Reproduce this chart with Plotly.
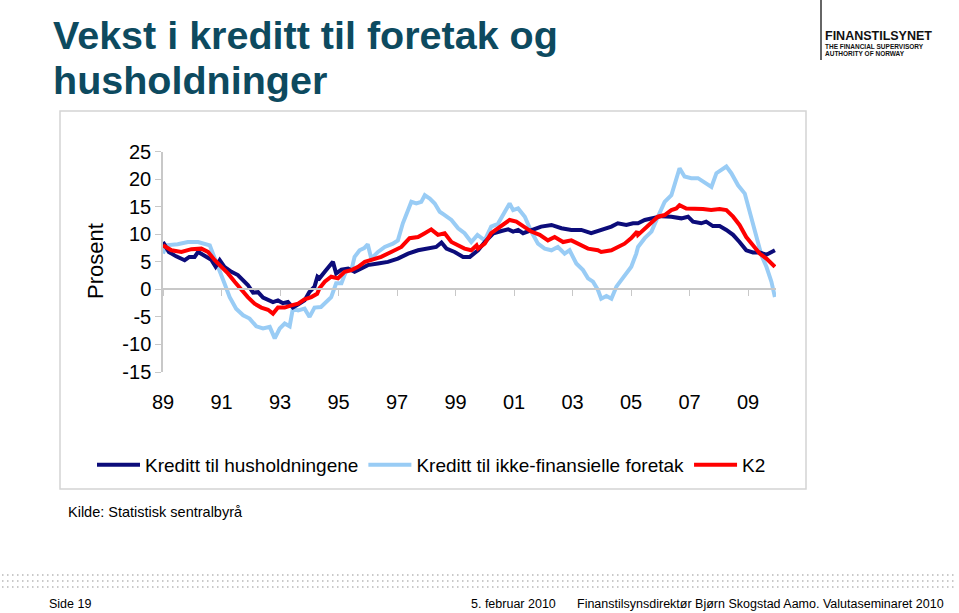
import plotly.graph_objects as go

# ---------------- data ----------------
hh_year = [1989.0, 1989.2, 1989.45, 1989.74, 1989.9, 1990.08, 1990.2, 1990.42, 1990.65, 1990.8,
           1990.94, 1991.1, 1991.34, 1991.56, 1991.74, 1991.9, 1992.08, 1992.25, 1992.42, 1992.6,
           1992.76, 1992.93, 1993.1, 1993.27, 1993.44, 1993.6, 1993.84, 1994.0, 1994.18, 1994.28,
           1994.35, 1994.53, 1994.81, 1994.92, 1995.1, 1995.33, 1995.55, 1995.78, 1996.0, 1996.35,
           1996.69, 1997.03, 1997.38, 1997.72, 1998.06, 1998.34, 1998.52, 1998.69, 1998.97, 1999.26,
           1999.49, 1999.66, 1999.77, 2000.0, 2000.3, 2000.57, 2000.8, 2000.97, 2001.14, 2001.31,
           2001.6, 2001.93, 2002.28, 2002.62, 2002.96, 2003.3, 2003.64, 2003.98, 2004.33, 2004.55,
           2004.84, 2005.07, 2005.24, 2005.47, 2005.75, 2006.04, 2006.38, 2006.72, 2006.95, 2007.12,
           2007.4, 2007.57, 2007.8, 2008.03, 2008.26, 2008.49, 2008.71, 2008.94, 2009.17, 2009.4,
           2009.63, 2009.8, 2009.92]
hh_val = [8.6, 6.8, 6.0, 5.3, 5.9, 5.9, 6.8, 6.2, 5.4, 4.1,
          5.3, 4.1, 3.2, 2.6, 1.7, 0.8, -0.6, -0.5, -1.5, -2.0,
          -2.3, -2.0, -2.5, -2.3, -3.3, -2.8, -2.0, -0.5, 0.5, 2.3,
          2.0, 3.2, 5.0, 2.9, 3.6, 3.8, 3.2, 3.8, 4.4, 4.7,
          5.0, 5.6, 6.5, 7.1, 7.4, 7.7, 8.5, 7.4, 6.8, 5.9,
          5.9, 6.5, 7.1, 8.6, 10.2, 10.6, 10.9, 10.5, 10.8, 10.2,
          10.8, 11.4, 11.7, 11.1, 10.8, 10.8, 10.2, 10.8, 11.4, 12.0,
          11.7, 12.0, 12.0, 12.6, 13.0, 13.3, 13.2, 12.9, 13.2, 12.3,
          12.0, 12.3, 11.5, 11.5, 10.8, 9.9, 8.6, 7.1, 6.7, 6.7,
          6.3, 6.8, 7.1]

nf_year = [1989.0, 1989.1, 1989.5, 1989.85, 1990.2, 1990.42, 1990.6, 1990.77, 1990.94, 1991.1,
           1991.28, 1991.5, 1991.74, 1991.96, 1992.19, 1992.42, 1992.65, 1992.82, 1992.99, 1993.16,
           1993.33, 1993.44, 1993.62, 1993.84, 1994.01, 1994.18, 1994.4, 1994.75, 1994.92, 1995.1,
           1995.25, 1995.44, 1995.55, 1995.72, 1995.88, 1996.0, 1996.12, 1996.35, 1996.58, 1996.86,
           1997.03, 1997.2, 1997.38, 1997.49, 1997.66, 1997.83, 1997.95, 1998.12, 1998.29, 1998.46,
           1998.63, 1998.86, 1999.09, 1999.31, 1999.54, 1999.75, 2000.0, 2000.22, 2000.45, 2000.62,
           2000.73, 2000.85, 2000.97, 2001.14, 2001.37, 2001.59, 2001.82, 2002.05, 2002.28, 2002.5,
           2002.73, 2002.9, 2003.13, 2003.36, 2003.53, 2003.7, 2003.87, 2003.98, 2004.16, 2004.33,
           2004.5, 2004.67, 2004.84, 2005.01, 2005.18, 2005.24, 2005.47, 2005.7, 2005.92, 2006.15,
           2006.38, 2006.55, 2006.66, 2006.83, 2007.06, 2007.29, 2007.52, 2007.75, 2007.92, 2008.09,
           2008.26, 2008.43, 2008.66, 2008.89, 2009.12, 2009.3, 2009.46, 2009.63, 2009.8, 2009.92]
nf_val = [6.5, 8.0, 8.2, 8.6, 8.6, 8.3, 8.0, 5.6, 3.5, 1.1,
          -1.4, -3.5, -4.7, -5.3, -6.7, -7.1, -6.8, -8.9, -7.1, -6.2,
          -6.7, -3.5, -3.8, -3.5, -5.0, -3.3, -3.2, -1.4, 1.1, 1.1,
          3.2, 3.5, 5.9, 7.1, 7.5, 8.2, 5.6, 6.8, 7.7, 8.3,
          8.9, 12.0, 14.4, 15.9, 15.6, 15.9, 17.1, 16.5, 15.6, 14.1,
          13.5, 12.6, 11.1, 10.2, 8.6, 9.9, 8.9, 11.4, 11.9, 13.5,
          14.4, 15.6, 14.4, 14.7, 13.2, 10.5, 8.3, 7.4, 7.1, 7.7,
          6.5, 7.1, 4.7, 3.5, 2.0, 1.4, -0.1, -1.7, -1.2, -1.7,
          0.5, 1.7, 2.9, 4.1, 6.5, 7.7, 9.3, 10.5, 13.2, 15.9,
          17.1, 19.9, 22.0, 20.5, 20.2, 20.2, 19.3, 18.6, 21.1, 21.7,
          22.3, 21.1, 18.9, 17.4, 12.6, 8.9, 6.2, 4.1, 1.4, -1.4]

k2_year = [1989.0, 1989.29, 1989.63, 1989.97, 1990.31, 1990.54, 1990.77, 1991.0, 1991.22, 1991.45,
           1991.68, 1991.9, 1992.13, 1992.36, 1992.59, 1992.76, 1992.93, 1993.16, 1993.39, 1993.62,
           1993.84, 1994.07, 1994.27, 1994.35, 1994.53, 1994.75, 1994.98, 1995.21, 1995.44, 1995.67,
           1995.9, 1996.12, 1996.46, 1996.8, 1997.15, 1997.43, 1997.72, 1997.95, 1998.17, 1998.4,
           1998.63, 1998.86, 1999.09, 1999.31, 1999.54, 1999.72, 1999.77, 2000.0, 2000.22, 2000.45,
           2000.68, 2000.85, 2001.08, 2001.31, 2001.59, 2001.88, 2002.16, 2002.39, 2002.68, 2002.96,
           2003.19, 2003.53, 2003.87, 2003.98, 2004.33, 2004.56, 2004.78, 2005.01, 2005.21, 2005.24,
           2005.47, 2005.7, 2005.92, 2006.15, 2006.38, 2006.55, 2006.66, 2006.89, 2007.17, 2007.46,
           2007.74, 2008.03, 2008.26, 2008.49, 2008.71, 2008.94, 2009.17, 2009.4, 2009.63, 2009.8,
           2009.92]
k2_val = [8.0, 7.1, 6.8, 7.3, 7.4, 6.8, 5.3, 4.1, 2.9, 1.4,
          -0.1, -1.4, -2.6, -3.3, -3.7, -4.4, -3.3, -3.3, -2.9, -2.6,
          -1.8, -1.4, -0.8, 0.2, 1.4, 2.3, 2.0, 3.2, 3.5, 4.1,
          5.0, 5.3, 5.9, 6.8, 7.7, 9.3, 9.5, 10.2, 10.9, 9.9,
          10.2, 8.6, 8.0, 7.4, 7.1, 8.0, 7.4, 8.3, 10.2, 11.1,
          12.0, 12.6, 12.3, 11.4, 10.5, 9.9, 8.9, 9.5, 8.6, 8.9,
          8.3, 7.4, 7.1, 6.8, 7.1, 7.7, 8.3, 9.3, 10.5, 9.9,
          11.1, 12.3, 13.2, 13.5, 14.4, 14.7, 15.3, 14.7, 14.7, 14.6,
          14.4, 14.6, 14.4, 13.2, 11.7, 9.5, 8.0, 6.5, 5.6, 4.7,
          4.1]

tick_years = [1989, 1991, 1993, 1995, 1997, 1999, 2001, 2003, 2005, 2007, 2009]
tick_labels = ["89", "91", "93", "95", "97", "99", "01", "03", "05", "07", "09"]
y_ticks = [-15, -10, -5, 0, 5, 10, 15, 20, 25]
y_labels = ["-15", "-10", "-5", "0", "5", "10", "15", "20", "25"]

series_names = ["Kreditt til husholdningene", "Kreditt til ikke-finansielle foretak", "K2"]

# ---------------- layout helpers ----------------
W, H = 959, 613
def px(x):
    return x / W
def py(y):
    return 1 - y / H

NAVY = "#0c0c7a"
LIGHT = "#99ccf5"
RED = "#ff0000"
FONT = "Liberation Sans, Arial, sans-serif"

fig = go.Figure()
fig.add_trace(go.Scatter(x=nf_year, y=nf_val, mode="lines", name=series_names[1],
                         line=dict(color=LIGHT, width=4), legendrank=2))
fig.add_trace(go.Scatter(x=hh_year, y=hh_val, mode="lines", name=series_names[0],
                         line=dict(color=NAVY, width=4), legendrank=1))
fig.add_trace(go.Scatter(x=k2_year, y=k2_val, mode="lines", name=series_names[2],
                         line=dict(color=RED, width=4), legendrank=3))

xr = [1989.0, 1989.0 + (776 - 163) / 29.25]

fig.update_layout(
    width=W, height=H,
    margin=dict(l=0, r=0, t=0, b=0, autoexpand=False),
    paper_bgcolor="white", plot_bgcolor="white",
    font=dict(family=FONT, color="black"),
    xaxis=dict(domain=[px(163), px(776)], range=xr, tickvals=tick_years, ticktext=tick_labels,
               showline=False, showgrid=False, zeroline=False, ticks="",
               ticklabelstandoff=16, tickfont=dict(size=20)),
    xaxis2=dict(domain=[px(163), px(776)], range=xr, overlaying="x", anchor="free",
                position=py(289.2), tickvals=tick_years, showticklabels=False,
                showline=True, linecolor="#c8c8c8", linewidth=1.5, ticks="outside",
                ticklen=6, tickcolor="#c8c8c8", showgrid=False, zeroline=False),
    yaxis=dict(domain=[py(372), py(151.7)], range=[-15, 25], tickvals=y_ticks, ticktext=y_labels,
               showline=True, linecolor="#c8c8c8", linewidth=1.5, ticks="outside",
               ticklen=6, tickcolor="#c8c8c8", showgrid=False, zeroline=False,
               tickfont=dict(size=20)),
    legend=dict(orientation="h", x=px(92), y=py(465), xanchor="left", yanchor="middle",
                font=dict(size=19), itemwidth=43, tracegroupgap=0, bgcolor="rgba(0,0,0,0)"),
    showlegend=True,
)
# invisible trace to activate xaxis2
fig.add_trace(go.Scatter(x=[xr[0]], y=[0], xaxis="x2", mode="markers",
                         marker=dict(opacity=0), showlegend=False, hoverinfo="skip"))

shapes = []
shapes.append(dict(type="rect", xref="paper", yref="paper", x0=px(60), x1=px(806),
                   y0=py(489), y1=py(111), line=dict(color="#d4d4d4", width=1.5)))
shapes.append(dict(type="line", xref="paper", yref="paper", x0=px(821), x1=px(821),
                   y0=py(0), y1=py(60), line=dict(color="#333333", width=1.5)))
for yy in (575, 581, 587):
    shapes.append(dict(type="line", xref="paper", yref="paper", x0=px(2), x1=px(957),
                       y0=py(yy), y1=py(yy), line=dict(color="#b8b8b8", width=1.5, dash="1.5px,3.5px")))
fig.update_layout(shapes=shapes)

TITLE = "#0d4a5f"
def note(text, x, y, size, color="black", **kw):
    d = dict(text=text, x=px(x), y=py(y), xref="paper", yref="paper", xanchor="left",
             yanchor="middle", showarrow=False, font=dict(size=size, color=color))
    d.update(kw)
    return d

ann = [
    note("<b>Vekst i kreditt til foretak og</b>", 51, 35, 39.5, TITLE),
    note("<b>husholdninger</b>", 51, 80, 39.5, TITLE),
    note("Prosent", 96, 261, 22, textangle=-90, xanchor="center"),
    note("Kilde: Statistisk sentralbyrå", 66, 512, 14.5),
    note("Side 19", 47, 604, 12.5),
    note("5. februar 2010", 469, 604, 12.5),
    note("Finanstilsynsdirektør Bjørn Skogstad Aamo. Valutaseminaret 2010", 575, 604, 12.5),
    note("<b>FINANSTILSYNET</b>", 823, 36, 12.5, "#111111"),
    note("<b>THE FINANCIAL SUPERVISORY</b>", 823, 46, 6.5, "#111111"),
    note("<b>AUTHORITY OF NORWAY</b>", 823, 53, 6.5, "#111111"),
]
fig.update_layout(annotations=ann)

fig.write_html("out.html", config={"displayModeBar": False},
               post_script="document.body.style.margin='0';document.body.style.overflow='hidden';")
